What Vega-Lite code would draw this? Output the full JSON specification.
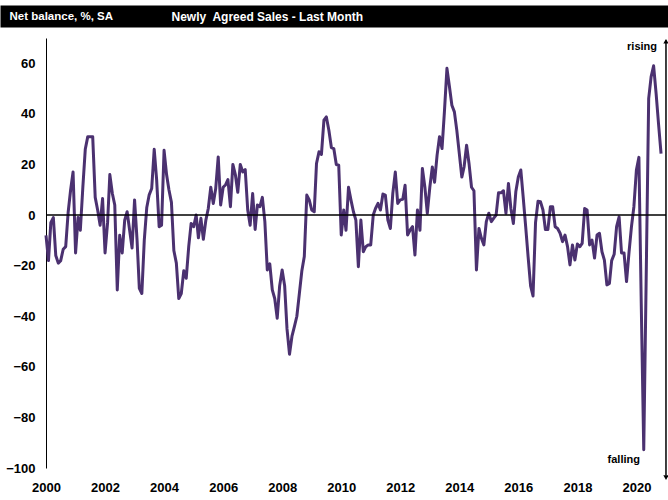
{
  "$schema": "https://vega.github.io/schema/vega-lite/v6.json",
  "width": 668,
  "height": 430,
  "autosize": {"type": "none"},
  "padding": {"left": 0, "top": 38, "right": 0, "bottom": 32},
  "background": "white",
  "config": {
    "view": {"stroke": null},
    "axis": {
      "labelFont": "Liberation Sans, Arial, sans-serif",
      "labelFontWeight": "bold",
      "labelFontSize": 13,
      "labelColor": "black",
      "titleFont": "Liberation Sans, Arial, sans-serif",
      "titleFontWeight": "bold",
      "titleFontSize": 11.5,
      "grid": false,
      "ticks": false,
      "tickSize": 0
    }
  },
  "datasets": {
    "sales": [
      {"month": "2000-01-01", "balance": -8}, {"month": "2000-02-01", "balance": -18}, {"month": "2000-03-01", "balance": -3}, {"month": "2000-04-01", "balance": -1}, {"month": "2000-05-01", "balance": -16}, {"month": "2000-06-01", "balance": -19}, {"month": "2000-07-01", "balance": -18}, {"month": "2000-08-01", "balance": -13.5}, {"month": "2000-09-01", "balance": -12.5}, {"month": "2000-10-01", "balance": 1}, {"month": "2000-11-01", "balance": 10}, {"month": "2000-12-01", "balance": 17},
      {"month": "2001-01-01", "balance": -15}, {"month": "2001-02-01", "balance": -1}, {"month": "2001-03-01", "balance": -6}, {"month": "2001-04-01", "balance": 11}, {"month": "2001-05-01", "balance": 26}, {"month": "2001-06-01", "balance": 31}, {"month": "2001-07-01", "balance": 31}, {"month": "2001-08-01", "balance": 31}, {"month": "2001-09-01", "balance": 7}, {"month": "2001-10-01", "balance": 2}, {"month": "2001-11-01", "balance": -4}, {"month": "2001-12-01", "balance": 6.5},
      {"month": "2002-01-01", "balance": -15}, {"month": "2002-02-01", "balance": -3}, {"month": "2002-03-01", "balance": 16}, {"month": "2002-04-01", "balance": 8.5}, {"month": "2002-05-01", "balance": 4}, {"month": "2002-06-01", "balance": -29.6}, {"month": "2002-07-01", "balance": -8}, {"month": "2002-08-01", "balance": -15}, {"month": "2002-09-01", "balance": -2}, {"month": "2002-10-01", "balance": 1.3}, {"month": "2002-11-01", "balance": -6}, {"month": "2002-12-01", "balance": -13},
      {"month": "2003-01-01", "balance": 6}, {"month": "2003-02-01", "balance": -10}, {"month": "2003-03-01", "balance": -29}, {"month": "2003-04-01", "balance": -31}, {"month": "2003-05-01", "balance": -10}, {"month": "2003-06-01", "balance": 3}, {"month": "2003-07-01", "balance": 8}, {"month": "2003-08-01", "balance": 10.5}, {"month": "2003-09-01", "balance": 26}, {"month": "2003-10-01", "balance": 14}, {"month": "2003-11-01", "balance": -4.6}, {"month": "2003-12-01", "balance": -4},
      {"month": "2004-01-01", "balance": 25.6}, {"month": "2004-02-01", "balance": 16}, {"month": "2004-03-01", "balance": 10}, {"month": "2004-04-01", "balance": 5}, {"month": "2004-05-01", "balance": -14}, {"month": "2004-06-01", "balance": -19}, {"month": "2004-07-01", "balance": -33}, {"month": "2004-08-01", "balance": -31}, {"month": "2004-09-01", "balance": -22}, {"month": "2004-10-01", "balance": -25}, {"month": "2004-11-01", "balance": -12.5}, {"month": "2004-12-01", "balance": -3.3},
      {"month": "2005-01-01", "balance": -4.6}, {"month": "2005-02-01", "balance": 0}, {"month": "2005-03-01", "balance": -9}, {"month": "2005-04-01", "balance": -1.3}, {"month": "2005-05-01", "balance": -9.6}, {"month": "2005-06-01", "balance": -2}, {"month": "2005-07-01", "balance": 2.6}, {"month": "2005-08-01", "balance": 11}, {"month": "2005-09-01", "balance": 4.6}, {"month": "2005-10-01", "balance": 10.5}, {"month": "2005-11-01", "balance": 23}, {"month": "2005-12-01", "balance": 4},
      {"month": "2006-01-01", "balance": 11}, {"month": "2006-02-01", "balance": 12}, {"month": "2006-03-01", "balance": 14}, {"month": "2006-04-01", "balance": 3.3}, {"month": "2006-05-01", "balance": 20}, {"month": "2006-06-01", "balance": 16}, {"month": "2006-07-01", "balance": 9}, {"month": "2006-08-01", "balance": 20}, {"month": "2006-09-01", "balance": 17}, {"month": "2006-10-01", "balance": 18}, {"month": "2006-11-01", "balance": 2}, {"month": "2006-12-01", "balance": -4},
      {"month": "2007-01-01", "balance": 8.5}, {"month": "2007-02-01", "balance": -5.7}, {"month": "2007-03-01", "balance": 4}, {"month": "2007-04-01", "balance": 3.3}, {"month": "2007-05-01", "balance": 7}, {"month": "2007-06-01", "balance": -2.6}, {"month": "2007-07-01", "balance": -21.7}, {"month": "2007-08-01", "balance": -19.3}, {"month": "2007-09-01", "balance": -29.6}, {"month": "2007-10-01", "balance": -33}, {"month": "2007-11-01", "balance": -40.8}, {"month": "2007-12-01", "balance": -28},
      {"month": "2008-01-01", "balance": -21.7}, {"month": "2008-02-01", "balance": -28}, {"month": "2008-03-01", "balance": -45}, {"month": "2008-04-01", "balance": -55}, {"month": "2008-05-01", "balance": -48}, {"month": "2008-06-01", "balance": -44}, {"month": "2008-07-01", "balance": -40}, {"month": "2008-08-01", "balance": -31}, {"month": "2008-09-01", "balance": -22}, {"month": "2008-10-01", "balance": -16.4}, {"month": "2008-11-01", "balance": 7.9}, {"month": "2008-12-01", "balance": 6},
      {"month": "2009-01-01", "balance": 2}, {"month": "2009-02-01", "balance": 1.3}, {"month": "2009-03-01", "balance": 20.4}, {"month": "2009-04-01", "balance": 25}, {"month": "2009-05-01", "balance": 24}, {"month": "2009-06-01", "balance": 37.5}, {"month": "2009-07-01", "balance": 38.8}, {"month": "2009-08-01", "balance": 33.5}, {"month": "2009-09-01", "balance": 26.7}, {"month": "2009-10-01", "balance": 26.3}, {"month": "2009-11-01", "balance": 20}, {"month": "2009-12-01", "balance": 19.7},
      {"month": "2010-01-01", "balance": -7.9}, {"month": "2010-02-01", "balance": 2}, {"month": "2010-03-01", "balance": -6}, {"month": "2010-04-01", "balance": 11}, {"month": "2010-05-01", "balance": 6}, {"month": "2010-06-01", "balance": 1.3}, {"month": "2010-07-01", "balance": -2}, {"month": "2010-08-01", "balance": -20.4}, {"month": "2010-09-01", "balance": -2}, {"month": "2010-10-01", "balance": -14.5}, {"month": "2010-11-01", "balance": -12.5}, {"month": "2010-12-01", "balance": -11.8},
      {"month": "2011-01-01", "balance": -11.8}, {"month": "2011-02-01", "balance": 0}, {"month": "2011-03-01", "balance": 2.6}, {"month": "2011-04-01", "balance": 4.6}, {"month": "2011-05-01", "balance": 2}, {"month": "2011-06-01", "balance": 8.3}, {"month": "2011-07-01", "balance": 7.9}, {"month": "2011-08-01", "balance": -2}, {"month": "2011-09-01", "balance": -5.3}, {"month": "2011-10-01", "balance": 8.6}, {"month": "2011-11-01", "balance": 17}, {"month": "2011-12-01", "balance": 4.6},
      {"month": "2012-01-01", "balance": 6}, {"month": "2012-02-01", "balance": 6.2}, {"month": "2012-03-01", "balance": 11.8}, {"month": "2012-04-01", "balance": -7.9}, {"month": "2012-05-01", "balance": -6}, {"month": "2012-06-01", "balance": -4.6}, {"month": "2012-07-01", "balance": -15.8}, {"month": "2012-08-01", "balance": 2}, {"month": "2012-09-01", "balance": -6}, {"month": "2012-10-01", "balance": 18.4}, {"month": "2012-11-01", "balance": 11}, {"month": "2012-12-01", "balance": 0.7},
      {"month": "2013-01-01", "balance": 11}, {"month": "2013-02-01", "balance": 19}, {"month": "2013-03-01", "balance": 13}, {"month": "2013-04-01", "balance": 23.7}, {"month": "2013-05-01", "balance": 31}, {"month": "2013-06-01", "balance": 26.3}, {"month": "2013-07-01", "balance": 41}, {"month": "2013-08-01", "balance": 58}, {"month": "2013-09-01", "balance": 50.7}, {"month": "2013-10-01", "balance": 43.4}, {"month": "2013-11-01", "balance": 40.8}, {"month": "2013-12-01", "balance": 33.5},
      {"month": "2014-01-01", "balance": 24.3}, {"month": "2014-02-01", "balance": 15}, {"month": "2014-03-01", "balance": 19}, {"month": "2014-04-01", "balance": 27.6}, {"month": "2014-05-01", "balance": 20.4}, {"month": "2014-06-01", "balance": 11}, {"month": "2014-07-01", "balance": 9.6}, {"month": "2014-08-01", "balance": -21.7}, {"month": "2014-09-01", "balance": -5.3}, {"month": "2014-10-01", "balance": -9.2}, {"month": "2014-11-01", "balance": -11.8}, {"month": "2014-12-01", "balance": -2.6},
      {"month": "2015-01-01", "balance": 0.7}, {"month": "2015-02-01", "balance": -2.6}, {"month": "2015-03-01", "balance": -1.3}, {"month": "2015-04-01", "balance": 0}, {"month": "2015-05-01", "balance": 8.8}, {"month": "2015-06-01", "balance": 8.8}, {"month": "2015-07-01", "balance": 9.6}, {"month": "2015-08-01", "balance": 0.7}, {"month": "2015-09-01", "balance": 12.5}, {"month": "2015-10-01", "balance": 2.6}, {"month": "2015-11-01", "balance": -3.3}, {"month": "2015-12-01", "balance": 9.2},
      {"month": "2016-01-01", "balance": 15}, {"month": "2016-02-01", "balance": 17.8}, {"month": "2016-03-01", "balance": 7.2}, {"month": "2016-04-01", "balance": -4.6}, {"month": "2016-05-01", "balance": -16.4}, {"month": "2016-06-01", "balance": -28}, {"month": "2016-07-01", "balance": -32}, {"month": "2016-08-01", "balance": -3}, {"month": "2016-09-01", "balance": 5.5}, {"month": "2016-10-01", "balance": 5.3}, {"month": "2016-11-01", "balance": 2}, {"month": "2016-12-01", "balance": -5.7},
      {"month": "2017-01-01", "balance": -5.7}, {"month": "2017-02-01", "balance": 3.3}, {"month": "2017-03-01", "balance": 3.3}, {"month": "2017-04-01", "balance": -4.6}, {"month": "2017-05-01", "balance": -5.3}, {"month": "2017-06-01", "balance": -7.2}, {"month": "2017-07-01", "balance": -10.5}, {"month": "2017-08-01", "balance": -7.9}, {"month": "2017-09-01", "balance": -12.5}, {"month": "2017-10-01", "balance": -19.7}, {"month": "2017-11-01", "balance": -11.8}, {"month": "2017-12-01", "balance": -17.8},
      {"month": "2018-01-01", "balance": -11.4}, {"month": "2018-02-01", "balance": -12.5}, {"month": "2018-03-01", "balance": -11.2}, {"month": "2018-04-01", "balance": 2.6}, {"month": "2018-05-01", "balance": 2}, {"month": "2018-06-01", "balance": -11.8}, {"month": "2018-07-01", "balance": -9.9}, {"month": "2018-08-01", "balance": -17}, {"month": "2018-09-01", "balance": -7.9}, {"month": "2018-10-01", "balance": -7.2}, {"month": "2018-11-01", "balance": -14.5}, {"month": "2018-12-01", "balance": -17.8},
      {"month": "2019-01-01", "balance": -27.6}, {"month": "2019-02-01", "balance": -27}, {"month": "2019-03-01", "balance": -18}, {"month": "2019-04-01", "balance": -15.5}, {"month": "2019-05-01", "balance": -4.6}, {"month": "2019-06-01", "balance": -0.7}, {"month": "2019-07-01", "balance": -15}, {"month": "2019-08-01", "balance": -15}, {"month": "2019-09-01", "balance": -26.3}, {"month": "2019-10-01", "balance": -15}, {"month": "2019-11-01", "balance": -4.6}, {"month": "2019-12-01", "balance": 3.3},
      {"month": "2020-01-01", "balance": 17.8}, {"month": "2020-02-01", "balance": 22.8}, {"month": "2020-03-01", "balance": -35}, {"month": "2020-04-01", "balance": -92.8}, {"month": "2020-05-01", "balance": -25}, {"month": "2020-06-01", "balance": 46}, {"month": "2020-07-01", "balance": 54.6}, {"month": "2020-08-01", "balance": 59}, {"month": "2020-09-01", "balance": 48}, {"month": "2020-10-01", "balance": 36}, {"month": "2020-11-01", "balance": 24.3}
    ]
  },
  "layer": [
    {
      "data": {"name": "sales"},
      "mark": {"type": "line", "color": "#4b3170", "strokeWidth": 3, "strokeJoin": "round"},
      "encoding": {
        "x": {
          "field": "month", "type": "temporal",
          "scale": {"domain": [{"year": 1998, "month": 6, "date": 11}, {"year": 2021, "month": 1, "date": 26}]},
          "axis": {
            "orient": "bottom", "title": null, "domain": false, "format": "%Y",
            "tickCount": {"interval": "year", "step": 2},
            "labelPadding": 13, "labelFlush": false, "labelOverlap": false
          }
        },
        "y": {
          "field": "balance", "type": "quantitative",
          "scale": {"domain": [-100, 70], "nice": false, "zero": false},
          "axis": {
            "orient": "left", "offset": -46,
            "values": [-100, -80, -60, -40, -20, 0, 20, 40, 60],
            "domain": true, "domainColor": "black", "domainWidth": 1,
            "labelPadding": 11,
            "title": "Net balance, %, SA", "titleColor": "white",
            "titleAngle": 0, "titleAlign": "left", "titleBaseline": "middle",
            "titleX": -37, "titleY": -22
          }
        }
      }
    },
    {
      "data": {"values": [{}]},
      "mark": {"type": "rule", "color": "black", "strokeWidth": 1.5},
      "encoding": {
        "x": {
          "datum": {"year": 2000, "month": 1, "date": 1}, "type": "temporal",
          "axis": {
            "orient": "top", "offset": 22, "domain": true, "domainColor": "black", "domainWidth": 22,
            "labels": false, "ticks": false, "grid": false,
            "title": "Newly\u00a0 Agreed Sales - Last Month", "titleColor": "white",
            "titleFontSize": 12,
            "titleAlign": "left", "titleBaseline": "middle", "titleAnchor": "start",
            "titleX": 171, "titleY": 0
          }
        },
        "x2": {"datum": {"year": 2021, "month": 1, "date": 1}},
        "y": {"datum": 0, "type": "quantitative", "axis": null}
      }
    },
    {
      "data": {"values": [{}]},
      "mark": {"type": "rule", "color": "black", "strokeWidth": 1.5},
      "encoding": {
        "x": {"datum": {"year": 2021, "month": 1, "date": 1}, "type": "temporal", "axis": null},
        "y": {"datum": 69, "type": "quantitative", "axis": null},
        "y2": {"datum": -103}
      }
    },
    {
      "data": {"values": [{}]},
      "mark": {"type": "point", "shape": "triangle-up", "filled": true, "color": "black", "size": 28, "opacity": 1},
      "encoding": {
        "x": {"datum": {"year": 2021, "month": 1, "date": 1}, "type": "temporal", "axis": null},
        "y": {"datum": 68.7, "type": "quantitative", "axis": null}
      }
    },
    {
      "data": {"values": [{}]},
      "mark": {"type": "point", "shape": "triangle-down", "filled": true, "color": "black", "size": 28, "opacity": 1},
      "encoding": {
        "x": {"datum": {"year": 2021, "month": 1, "date": 1}, "type": "temporal", "axis": null},
        "y": {"datum": -103.8, "type": "quantitative", "axis": null}
      }
    },
    {
      "data": {"values": [{}]},
      "mark": {"type": "text", "text": "rising", "align": "right", "baseline": "middle", "fontWeight": "bold", "fontSize": 11, "font": "Liberation Sans, Arial, sans-serif", "color": "black"},
      "encoding": {
        "x": {"datum": {"year": 2020, "month": 9, "date": 12}, "type": "temporal", "axis": null},
        "y": {"datum": 66.3, "type": "quantitative", "axis": null}
      }
    },
    {
      "data": {"values": [{}]},
      "mark": {"type": "text", "text": "falling", "align": "right", "baseline": "middle", "fontWeight": "bold", "fontSize": 11, "font": "Liberation Sans, Arial, sans-serif", "color": "black"},
      "encoding": {
        "x": {"datum": {"year": 2020, "month": 2, "date": 14}, "type": "temporal", "axis": null},
        "y": {"datum": -97, "type": "quantitative", "axis": null}
      }
    }
  ],
  "resolve": {"axis": {"x": "independent", "y": "independent"}}
}
